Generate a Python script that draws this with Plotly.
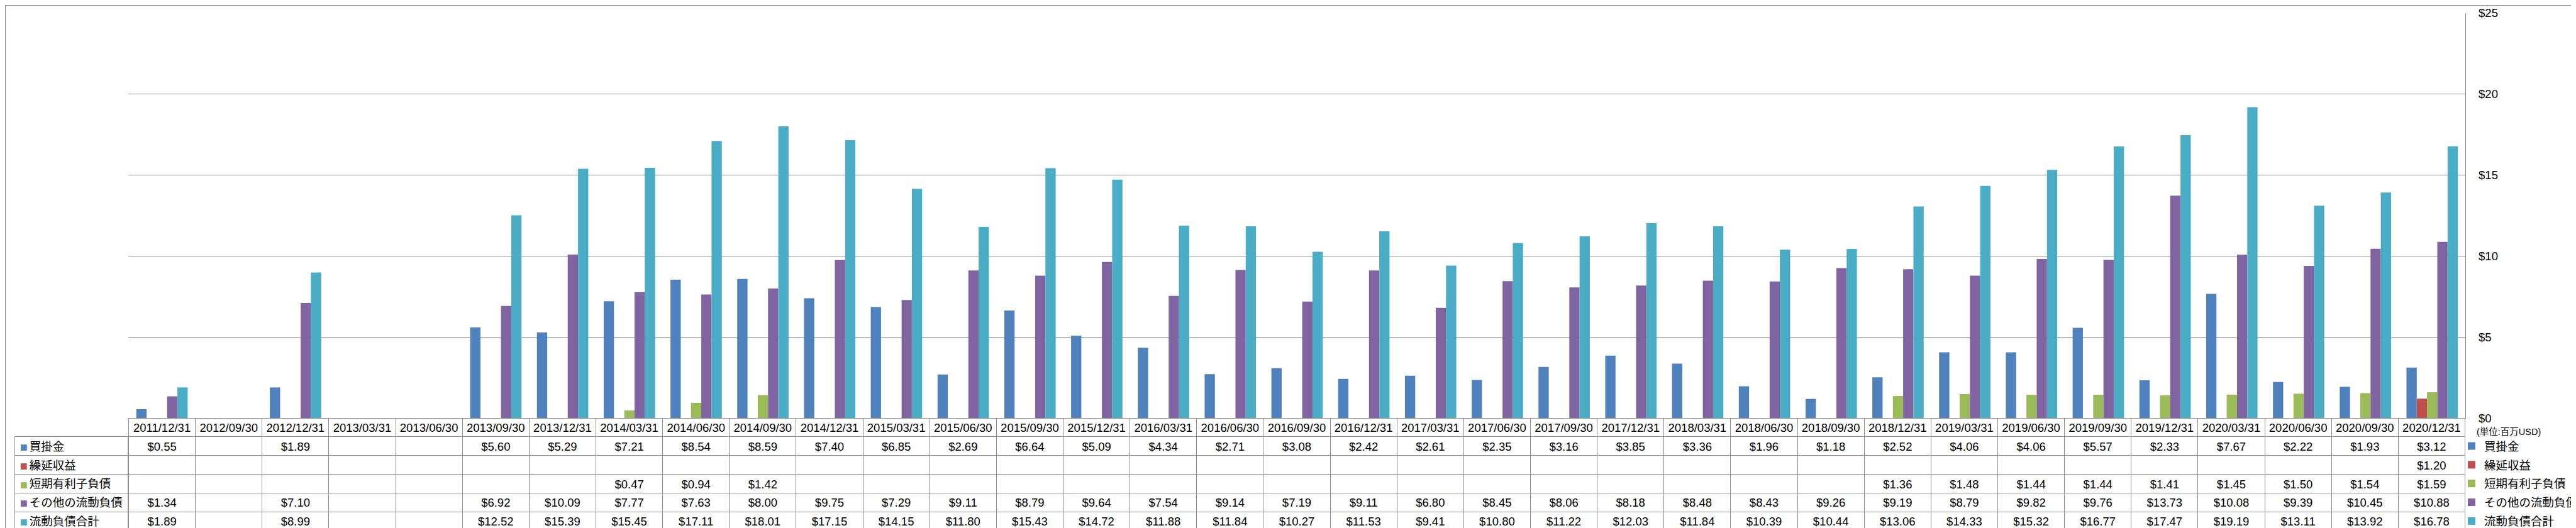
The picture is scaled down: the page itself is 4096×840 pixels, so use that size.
import plotly.graph_objects as go

# ---------------- data ----------------
categories = ["2011/12/31", "2012/09/30", "2012/12/31", "2013/03/31", "2013/06/30",
              "2013/09/30", "2013/12/31", "2014/03/31", "2014/06/30", "2014/09/30",
              "2014/12/31", "2015/03/31", "2015/06/30", "2015/09/30", "2015/12/31",
              "2016/03/31", "2016/06/30", "2016/09/30", "2016/12/31", "2017/03/31",
              "2017/06/30", "2017/09/30", "2017/12/31", "2018/03/31", "2018/06/30",
              "2018/09/30", "2018/12/31", "2019/03/31", "2019/06/30", "2019/09/30",
              "2019/12/31", "2020/03/31", "2020/06/30", "2020/09/30", "2020/12/31"]

series_names = ["買掛金", "繰延収益", "短期有利子負債", "その他の流動負債", "流動負債合計"]

accounts_payable = [0.55, None, 1.89, None, None, 5.60, 5.29, 7.21, 8.54, 8.59,
                    7.40, 6.85, 2.69, 6.64, 5.09, 4.34, 2.71, 3.08, 2.42, 2.61,
                    2.35, 3.16, 3.85, 3.36, 1.96, 1.18, 2.52, 4.06, 4.06, 5.57,
                    2.33, 7.67, 2.22, 1.93, 3.12]
deferred_revenue = [None, None, None, None, None, None, None, None, None, None,
                    None, None, None, None, None, None, None, None, None, None,
                    None, None, None, None, None, None, None, None, None, None,
                    None, None, None, None, 1.20]
short_term_debt = [None, None, None, None, None, None, None, 0.47, 0.94, 1.42,
                   None, None, None, None, None, None, None, None, None, None,
                   None, None, None, None, None, None, 1.36, 1.48, 1.44, 1.44,
                   1.41, 1.45, 1.50, 1.54, 1.59]
other_current = [1.34, None, 7.10, None, None, 6.92, 10.09, 7.77, 7.63, 8.00,
                 9.75, 7.29, 9.11, 8.79, 9.64, 7.54, 9.14, 7.19, 9.11, 6.80,
                 8.45, 8.06, 8.18, 8.48, 8.43, 9.26, 9.19, 8.79, 9.82, 9.76,
                 13.73, 10.08, 9.39, 10.45, 10.88]
total_current = [1.89, None, 8.99, None, None, 12.52, 15.39, 15.45, 17.11, 18.01,
                 17.15, 14.15, 11.80, 15.43, 14.72, 11.88, 11.84, 10.27, 11.53, 9.41,
                 10.80, 11.22, 12.03, 11.84, 10.39, 10.44, 13.06, 14.33, 15.32, 16.77,
                 17.47, 19.19, 13.11, 13.92, 16.78]

colors = ["#4F81BD", "#C0504D", "#9BBB59", "#8064A2", "#4BACC6"]
unit_label = "(単位:百万USD)"

series = [accounts_payable, deferred_revenue, short_term_debt, other_current, total_current]

# ---------------- geometry (reference px -> output px) ----------------
W, H = 4096, 840
S = W / 7317.0
plot_left = 351 * S
plot_right = 6989 * S
plot_top = 23 * S
plot_bottom = 1178 * S
table_left = 28 * S
row_h = 53.33 * S
name_left = 69 * S - 8      # text start minus plotly's cell padding

def fx(px):
    return px / W

def fy(px):
    return 1 - px / H

FONT = "Liberation Sans, Noto Sans CJK JP, sans-serif"
FS = 18.5
GRID = "#898989"
TLINE = "#8C8C8C"
CLEAR = "rgba(0,0,0,0)"

def fmt(v):
    return "" if v is None else "${:.2f}".format(v)

fig = go.Figure()

for name, vals, col in zip(series_names, series, colors):
    fig.add_trace(go.Bar(x=categories, y=vals, name=name, marker_color=col,
                         marker_line_width=0, legendgroup=name))

# data table (dates x values)
fig.add_trace(go.Table(
    domain=dict(x=[fx(plot_left), fx(plot_right)], y=[0, fy(plot_bottom)]),
    columnwidth=[1] * len(categories),
    header=dict(values=[[c] for c in categories], height=row_h, align="center",
                fill_color="white", line=dict(color=TLINE, width=1),
                font=dict(family=FONT, size=FS, color="black")),
    cells=dict(values=[[fmt(s[i]) for s in series] for i in range(len(categories))],
               height=row_h, align="center", fill_color="white",
               line=dict(color=TLINE, width=1),
               font=dict(family=FONT, size=FS, color="black")),
))

# label column frame with the colour keys
fig.add_trace(go.Table(
    domain=dict(x=[fx(table_left), fx(plot_left)], y=[0, fy(plot_bottom + row_h)]),
    header=dict(values=["■"], height=row_h, align="left", fill_color="white",
                line=dict(color=TLINE, width=1),
                font=dict(family=FONT, size=20, color=colors[0])),
    cells=dict(values=[["■"] * 4], height=row_h, align="left", fill_color="white",
               line=dict(color=TLINE, width=1),
               font=dict(family=FONT, size=20, color=[colors[1:]])),
))

# series names in the label column
fig.add_trace(go.Table(
    domain=dict(x=[fx(name_left), fx(plot_left)], y=[0, fy(plot_bottom + row_h)]),
    header=dict(values=[series_names[0]], height=row_h, align="left", fill_color=CLEAR,
                line=dict(color=CLEAR, width=0),
                font=dict(family=FONT, size=FS, color="black")),
    cells=dict(values=[series_names[1:]], height=row_h, align="left", fill_color=CLEAR,
               line=dict(color=CLEAR, width=0),
               font=dict(family=FONT, size=FS, color="black")),
))

fig.update_layout(
    width=W, height=H, autosize=False,
    template="none",
    margin=dict(l=0, r=0, t=0, b=0, pad=0),
    paper_bgcolor="white", plot_bgcolor="white",
    barmode="group", bargap=1.5 / 6.5, bargroupgap=0,
    font=dict(family=FONT, size=FS, color="black"),
    xaxis=dict(domain=[fx(plot_left), fx(plot_right)], type="category",
               showticklabels=False, showgrid=False, zeroline=False,
               showline=True, linecolor=GRID, linewidth=1, ticks="",
               automargin=False),
    yaxis=dict(domain=[fy(plot_bottom), fy(plot_top)], range=[0, 25], tick0=0, dtick=5,
               tickprefix="$", side="right", showgrid=True, gridcolor=GRID, gridwidth=1,
               zeroline=False, showline=True, linecolor=GRID, linewidth=1, ticks="",
               ticklabelstandoff=16, tickfont=dict(family=FONT, size=FS, color="black"),
               automargin=False),
    showlegend=True,
    legend=dict(x=fx(3902), y=fy(685.7), xanchor="left", yanchor="top",
                orientation="v", tracegroupgap=2.8, bgcolor=CLEAR,
                borderwidth=0, font=dict(family=FONT, size=FS, color="black")),
    annotations=[dict(text=unit_label, x=fx(7017 * S), y=fy(1217 * S), xref="paper",
                      yref="paper", xanchor="left", yanchor="middle", showarrow=False,
                      font=dict(family=FONT, size=14.5, color="black"))],
    shapes=[dict(type="rect", xref="paper", yref="paper", x0=0, x1=1, y0=0, y1=1,
                 line=dict(color="#868686", width=2), fillcolor=CLEAR,
                 layer="above")],
)

fig.write_html("out.html")
